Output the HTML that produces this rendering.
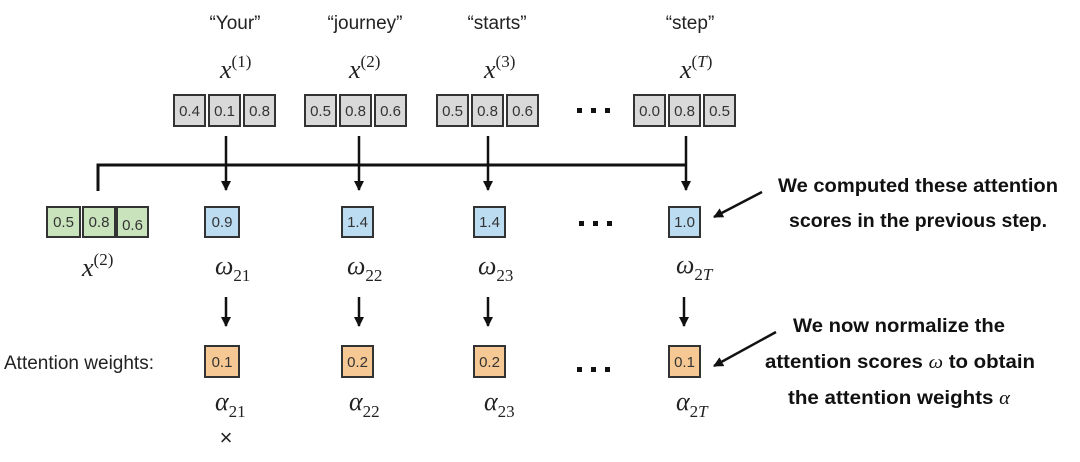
<!DOCTYPE html>
<html><head><meta charset="utf-8"><style>
body{margin:0;background:#fff;width:1080px;height:457px;overflow:hidden}
</style></head><body>
<svg width="1080" height="457" viewBox="0 0 1080 457" xmlns="http://www.w3.org/2000/svg">
<defs><marker id="ah" markerWidth="10" markerHeight="10" refX="9" refY="5" orient="auto" markerUnits="userSpaceOnUse"><path d="M0,0 L10,5 L0,10 z" fill="#111"/></marker></defs>
<g font-family="Liberation Sans, sans-serif" font-size="19" fill="#222" text-anchor="middle">
<text x="235" y="29">“Your”</text>
<text x="365" y="29">“journey”</text>
<text x="497" y="29">“starts”</text>
<text x="690" y="29">“step”</text>
</g>
<g font-family="Liberation Serif, serif" font-style="italic" font-size="26" fill="#222">
<text x="220" y="78">x<tspan font-style="normal" font-size="17" dy="-11">(1)</tspan></text>
<text x="349" y="78">x<tspan font-style="normal" font-size="17" dy="-11">(2)</tspan></text>
<text x="484" y="78">x<tspan font-style="normal" font-size="17" dy="-11">(3)</tspan></text>
<text x="680" y="78">x<tspan font-style="normal" font-size="17" dy="-11">(<tspan font-style="italic">T</tspan>)</tspan></text>
<text x="82" y="276">x<tspan font-style="normal" font-size="17" dy="-11">(2)</tspan></text>
<text x="215" y="274">ω<tspan font-style="normal" font-size="17" dy="7">21</tspan></text>
<text x="347" y="274">ω<tspan font-style="normal" font-size="17" dy="7">22</tspan></text>
<text x="478" y="274">ω<tspan font-style="normal" font-size="17" dy="7">23</tspan></text>
<text x="676" y="273">ω<tspan font-style="normal" font-size="17" dy="7">2<tspan font-style="italic">T</tspan></tspan></text>
<text x="215" y="410">α<tspan font-style="normal" font-size="17" dy="7">21</tspan></text>
<text x="349" y="410">α<tspan font-style="normal" font-size="17" dy="7">22</tspan></text>
<text x="484" y="410">α<tspan font-style="normal" font-size="17" dy="7">23</tspan></text>
<text x="676" y="410">α<tspan font-style="normal" font-size="17" dy="7">2<tspan font-style="italic">T</tspan></tspan></text>
</g>
<g stroke="#333" stroke-width="2" fill="#d9d9d9">
<rect x="174" y="95" width="31" height="31"/><rect x="209" y="95" width="31" height="31"/><rect x="244" y="95" width="31" height="31"/>
<rect x="305" y="95" width="31" height="31"/><rect x="340" y="95" width="31" height="31"/><rect x="375" y="95" width="31" height="31"/>
<rect x="437" y="95" width="31" height="31"/><rect x="472" y="95" width="31" height="31"/><rect x="507" y="95" width="31" height="31"/>
<rect x="634" y="95" width="31" height="31"/><rect x="669" y="95" width="31" height="31"/><rect x="704" y="95" width="31" height="31"/>
</g>
<g stroke="#333" stroke-width="2" fill="#c9e4bd">
<rect x="47" y="207" width="33" height="30"/><rect x="83" y="207" width="32" height="30"/><rect x="117" y="207" width="31" height="30"/>
</g>
<g stroke="#333" stroke-width="2" fill="#bcdcf2">
<rect x="205" y="207" width="34" height="30"/><rect x="342" y="207" width="31" height="30"/><rect x="474" y="207" width="31" height="30"/><rect x="669" y="207" width="31" height="30"/>
</g>
<g stroke="#333" stroke-width="2" fill="#f6c994">
<rect x="205" y="346" width="34" height="31"/><rect x="342" y="346" width="31" height="31"/><rect x="474" y="346" width="31" height="31"/><rect x="669" y="346" width="31" height="31"/>
</g>
<g font-family="Liberation Sans, sans-serif" font-size="15" fill="#333" text-anchor="middle">
<text x="189.5" y="116">0.4</text><text x="224.5" y="116">0.1</text><text x="259.5" y="116">0.8</text>
<text x="320.5" y="116">0.5</text><text x="355.5" y="116">0.8</text><text x="390.5" y="116">0.6</text>
<text x="452.5" y="116">0.5</text><text x="487.5" y="116">0.8</text><text x="522.5" y="116">0.6</text>
<text x="649.5" y="116">0.0</text><text x="684.5" y="116">0.8</text><text x="719.5" y="116">0.5</text>
<text x="63.5" y="227">0.5</text><text x="99" y="227">0.8</text><text x="132.5" y="230">0.6</text>
<text x="222" y="227">0.9</text><text x="357.5" y="227">1.4</text><text x="489.5" y="227">1.4</text><text x="684.5" y="227">1.0</text>
<text x="222" y="367">0.1</text><text x="357.5" y="367">0.2</text><text x="489.5" y="367">0.2</text><text x="684.5" y="367">0.1</text>
</g>
<g stroke="#111" stroke-width="3" fill="none">
<polyline points="98,191 98,165 687,165"/>
</g>
<g stroke="#111" stroke-width="2.5" marker-end="url(#ah)">
<line x1="226" y1="136" x2="226" y2="190"/><line x1="359" y1="136" x2="359" y2="190"/><line x1="488" y1="136" x2="488" y2="190"/><line x1="686" y1="136" x2="686" y2="190"/>
<line x1="226" y1="297" x2="226" y2="326"/><line x1="359" y1="297" x2="359" y2="326"/><line x1="488" y1="297" x2="488" y2="326"/><line x1="684" y1="297" x2="684" y2="326"/>
<line x1="762" y1="192" x2="714" y2="217"/><line x1="776" y1="332" x2="714" y2="366"/>
</g>
<g fill="#111">
<rect x="577" y="108" width="5" height="5"/><rect x="591" y="108" width="5" height="5"/><rect x="605" y="108" width="5" height="5"/>
<rect x="579" y="221" width="5" height="5"/><rect x="593" y="221" width="5" height="5"/><rect x="607" y="221" width="5" height="5"/>
<rect x="577" y="367" width="5" height="5"/><rect x="591" y="367" width="5" height="5"/><rect x="605" y="367" width="5" height="5"/>
</g>
<text x="4" y="369" font-family="Liberation Sans, sans-serif" font-size="19" fill="#222">Attention weights:</text>
<text x="226" y="445" font-family="Liberation Sans, sans-serif" font-size="22" fill="#222" text-anchor="middle">×</text>
<g font-family="Liberation Sans, sans-serif" font-weight="bold" font-size="19" fill="#111" text-anchor="middle">
<text x="918" y="192" textLength="280" lengthAdjust="spacingAndGlyphs">We computed these attention</text>
<text x="918" y="227" textLength="258" lengthAdjust="spacingAndGlyphs">scores in the previous step.</text>
<text x="899" y="332" textLength="212" lengthAdjust="spacingAndGlyphs">We now normalize the</text>
<text x="900" y="368" textLength="270" lengthAdjust="spacingAndGlyphs">attention scores <tspan font-family="Liberation Serif, serif" font-style="italic" font-weight="normal">ω</tspan> to obtain</text>
<text x="899" y="404" textLength="222" lengthAdjust="spacingAndGlyphs">the attention weights <tspan font-family="Liberation Serif, serif" font-style="italic" font-weight="normal">α</tspan></text>
</g>
</svg>
</body></html>
